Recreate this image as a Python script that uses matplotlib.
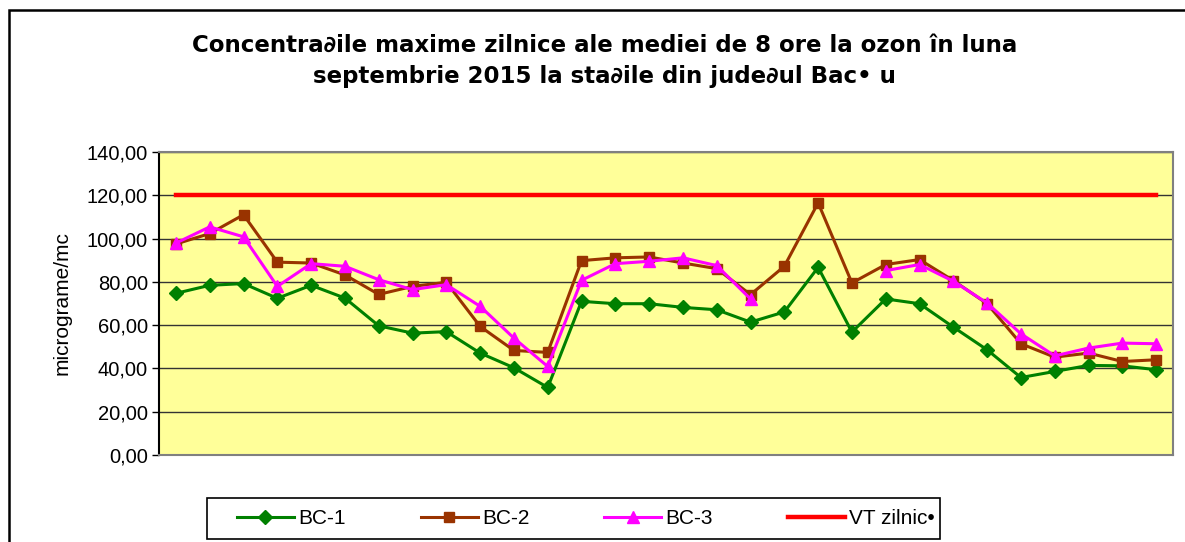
import numpy as np
import matplotlib.pyplot as plt
from matplotlib.patches import Rectangle
from matplotlib.ticker import FuncFormatter

plt.rcParams['font.family'] = ['Liberation Sans', 'DejaVu Sans']

# zilele lunii septembrie 2015
zile = np.arange(1, 31)

bc1 = [74.7, 78.4, 79.2, 72.4, 78.4, 72.5, 59.7, 56.3, 57.0, 47.1,
       40.3, 31.2, 71.0, 69.9, 69.9, 68.2, 67.1, 61.4, 66.1, 86.7,
       56.8, 72.1, 69.9, 59.1, 48.6, 35.8, 38.6, 41.4, 41.2, 39.4]
bc2 = [97.5, 102.3, 111.0, 89.1, 88.7, 83.2, 74.2, 77.9, 79.8, 59.4,
       48.3, 47.4, 89.8, 91.1, 91.5, 88.7, 86.1, 74.1, 87.2, 116.5,
       79.5, 88.0, 90.3, 80.6, 69.9, 51.4, 45.2, 47.1, 43.2, 44.0]
bc3 = [97.9, 105.4, 100.8, 77.9, 88.4, 87.2, 81.0, 76.4, 78.7, 68.7,
       54.0, 40.9, 80.7, 88.4, 89.5, 91.1, 87.5, 72.1, np.nan, np.nan,
       np.nan, 85.2, 88.0, 80.3, 70.2, 56.0, 45.8, 49.4, 51.7, 51.4]
vt = [120.0] * 30

titlu = ('Concentra\u2202ile maxime zilnice ale mediei de 8 ore la ozon \u00een luna\n'
         'septembrie 2015 la sta\u2202ile din jude\u2202ul Bac\u2022 u')

fig = plt.figure(figsize=(11.85, 5.42), dpi=100)
ax = fig.add_axes([0.1342, 0.1605, 0.8557, 0.5591])

ax.set_facecolor('#FFFF99')
ax.plot(zile, bc1, color='#008000', lw=2.2, marker='D', ms=7, label='BC-1', zorder=3)
ax.plot(zile, bc2, color='#993300', lw=2.2, marker='s', ms=7.5, label='BC-2', zorder=4)
ax.plot(zile, bc3, color='#FF00FF', lw=2.2, marker='^', ms=9, label='BC-3', zorder=5)
ax.plot(zile, vt, color='#FF0000', lw=3.2, label='VT zilnic\u2022', zorder=2)

ax.set_xlim(0.5, 30.5)
ax.set_ylim(0, 140)
ax.set_yticks(np.arange(0, 141, 20))
ax.yaxis.set_major_formatter(FuncFormatter(lambda v, p: f'{v:.2f}'.replace('.', ',')))
ax.set_xticks([])
ax.grid(axis='y', color='#333333', lw=1)
ax.set_axisbelow(True)
for s in ax.spines.values():
    s.set_color('#808080')
    s.set_linewidth(1.5)
ax.spines['left'].set_color('#000000')
ax.tick_params(axis='y', length=5, width=1, pad=3, labelsize=14.5)
ax.set_ylabel('micrograme/mc', fontsize=15, labelpad=11)

fig.text(0.51, 0.8875, titlu, ha='center', va='center', fontsize=16.5,
         fontweight='bold', family=['DejaVu Sans'], linespacing=1.5)

fig.legend(loc='center', bbox_to_anchor=(0.4945, 0.0435), ncol=4, fontsize=15,
           frameon=False, handlelength=2.74, columnspacing=3.6,
           handletextpad=0.2, borderpad=0, borderaxespad=0)
# chenarul legendei
fig.patches.append(Rectangle((207 / 1185, 3 / 542), 733 / 1185, 41 / 542,
                             transform=fig.transFigure, fill=False,
                             edgecolor='black', lw=1.2))

# chenarul exterior al graficului
fig.patches.append(Rectangle((9 / 1185, -0.1), 1.2, 1.1 - 10 / 542,
                             transform=fig.transFigure, fill=False,
                             edgecolor='black', lw=1.8))

fig.savefig('out.png', dpi=100)
